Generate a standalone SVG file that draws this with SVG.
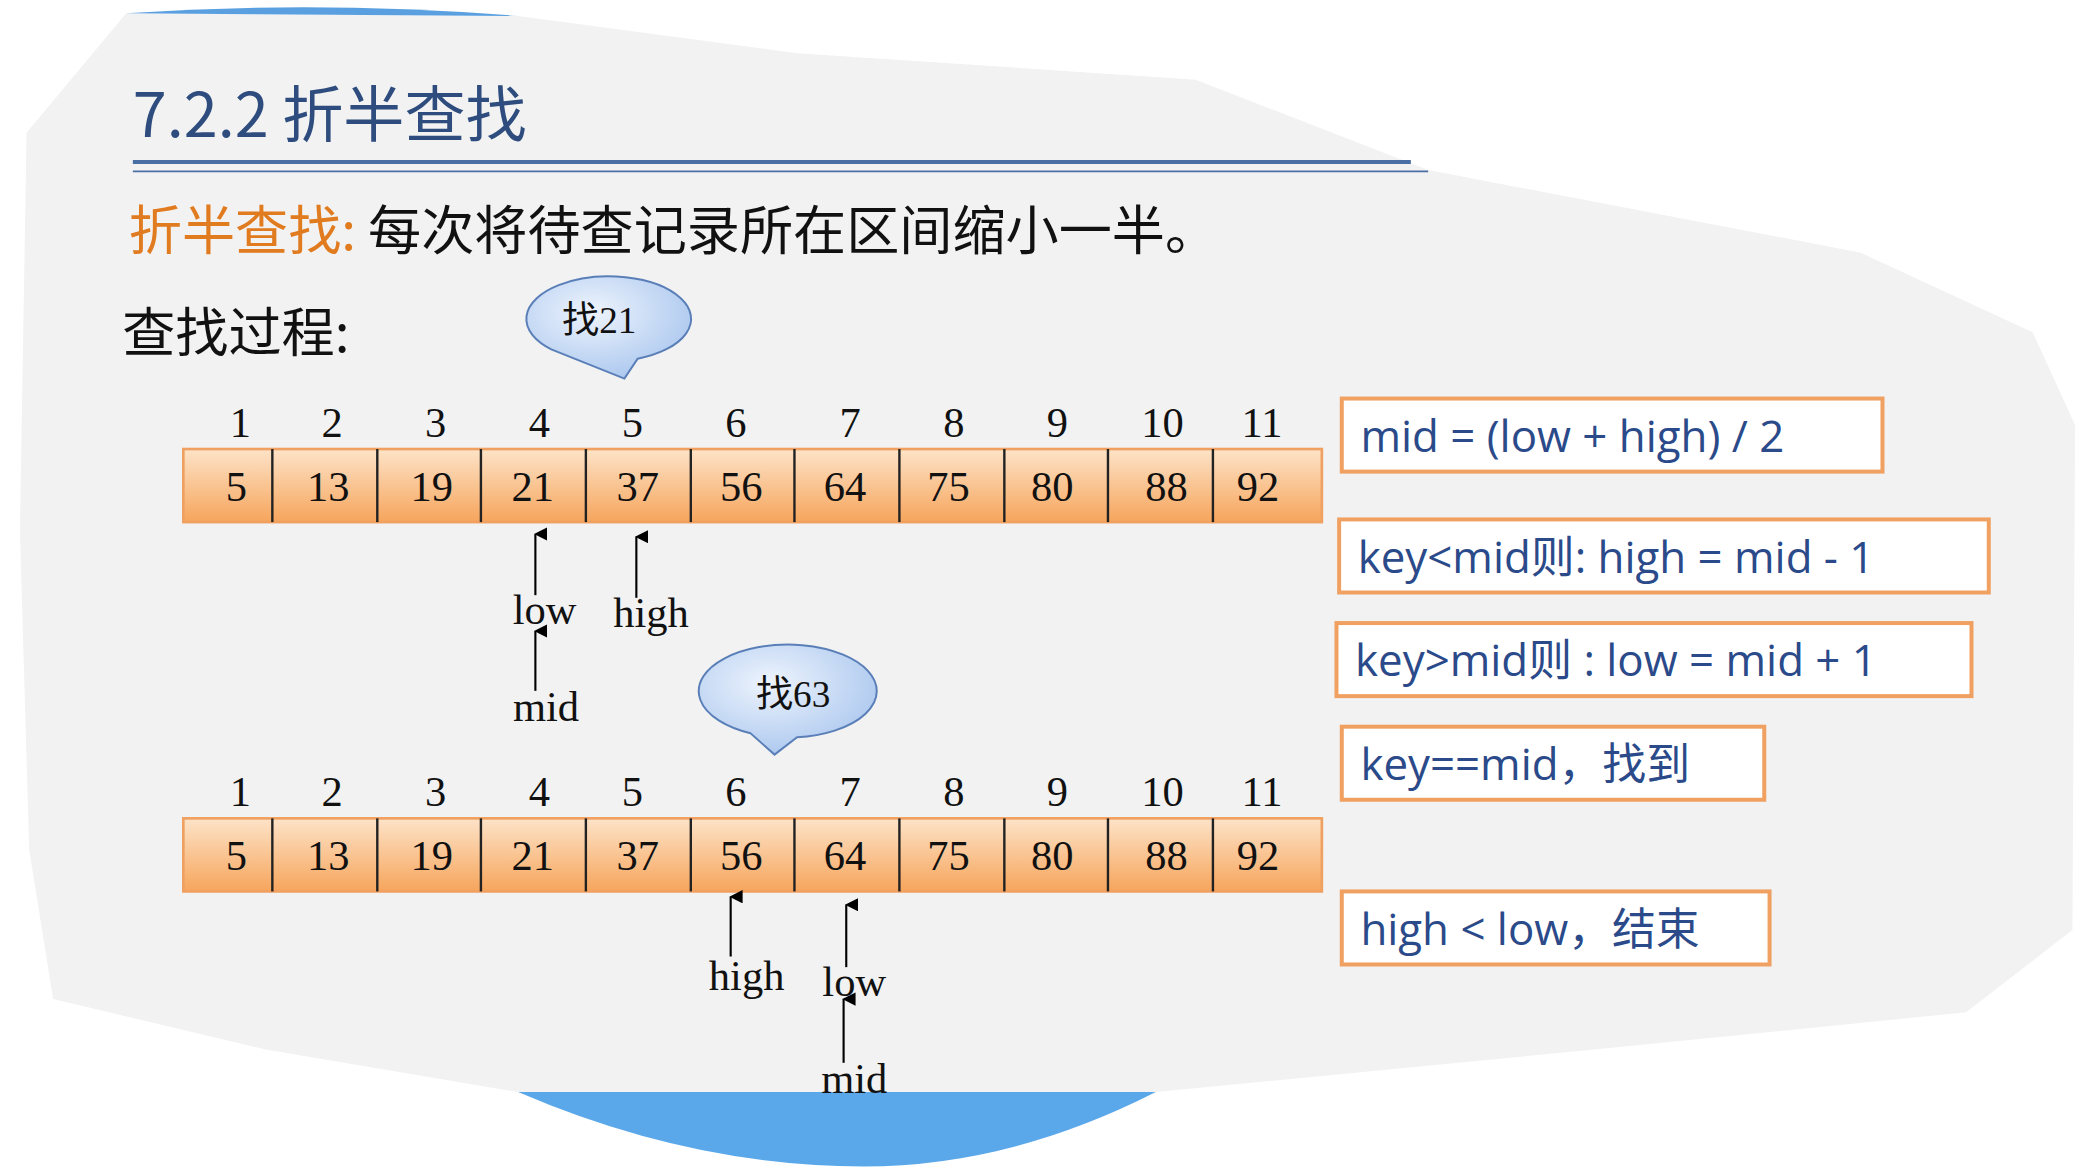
<svg xmlns="http://www.w3.org/2000/svg" width="2083" height="1167" viewBox="0 0 2083 1167">
<defs>
<linearGradient id="cell" x1="0" y1="0" x2="0" y2="1"><stop offset="0" stop-color="#fde3c8"/><stop offset="1" stop-color="#f6a55c"/></linearGradient>
<radialGradient id="bub" cx="0.4" cy="0.35" r="0.7"><stop offset="0" stop-color="#eef4fd"/><stop offset="1" stop-color="#a9c6ee"/></radialGradient>
<marker id="ar" markerWidth="10" markerHeight="10" refX="5" refY="1" orient="auto-start-reverse" markerUnits="userSpaceOnUse" viewBox="0 0 10 10"><path d="M0,10 L5,0 L10,10 Z" fill="#000"/></marker>
<style>
.ser{font-family:"Liberation Serif","Noto Sans CJK SC",serif;fill:#111;}
.idx{font-size:32px;text-anchor:middle;}
.val{font-size:32px;text-anchor:middle;}
.lbl{font-size:32px;text-anchor:middle;}
.cjk{font-family:"Noto Sans CJK SC",sans-serif;}
.box{fill:#fff;stroke:#f0a060;stroke-width:3;}
.bt{font-family:"Open Sans","Noto Sans CJK SC",sans-serif;font-size:33px;fill:#2b4a8a;}
.arr{stroke:#000;stroke-width:1.6;marker-end:url(#ar);}
.div{stroke:#222;stroke-width:1.8;}
</style>
</defs>
<g transform="scale(1.3285)">
<rect width="1568" height="878" fill="#fff"/>
<path d="M95,10 L390,12 L600,40 L900,60 L1075,128 L1400,190 L1530,250 L1562,320 L1560,700 L1480,762 L1200,790 L870,822 L390,822 L200,790 L40,752 L22,640 L15,400 L20,100 Z" fill="#f2f2f2"/>
<path d="M95,10 Q240,0 390,12 Z" fill="#5aa0e0"/>
<path d="M390,822 L870,822 Q760,878 650,878 Q520,878 390,822 Z" fill="#5aa8ea"/>
<g id="title">
<text x="100" y="103" font-family="Noto Sans CJK SC,sans-serif" font-size="46" fill="#2e4d7e">7.2.2 折半查找</text>
<line x1="100" y1="122" x2="1062" y2="122" stroke="#4a6fa5" stroke-width="3"/>
<line x1="100" y1="129" x2="1075" y2="129" stroke="#4a6fa5" stroke-width="1.2"/>
</g>
<g id="def">
<text x="97" y="188" font-family="Noto Sans CJK SC,sans-serif" font-size="40"><tspan fill="#e07b20">折半查找:</tspan><tspan fill="#111"> 每次将待查记录所在区间缩小一半。</tspan></text>
<text x="92" y="265" font-family="Noto Sans CJK SC,sans-serif" font-size="40" fill="#111">查找过程:</text>
</g>
<g id="bubble1">
<path d="M415,263 A62,32 0 1 1 480,270 L470,285 Z" fill="url(#bub)" stroke="#5a7fb8" stroke-width="1.5"/>
<text x="451" y="251" class="ser" font-size="28" text-anchor="middle">找21</text>
</g>
<g id="array1">
<rect x="138" y="338" width="857" height="55" fill="url(#cell)" stroke="#f0a060" stroke-width="2"/>
<g class="div"><line x1="205" y1="338" x2="205" y2="393"/><line x1="284" y1="338" x2="284" y2="393"/><line x1="362" y1="338" x2="362" y2="393"/><line x1="441" y1="338" x2="441" y2="393"/><line x1="520" y1="338" x2="520" y2="393"/><line x1="598" y1="338" x2="598" y2="393"/><line x1="677" y1="338" x2="677" y2="393"/><line x1="756" y1="338" x2="756" y2="393"/><line x1="834" y1="338" x2="834" y2="393"/><line x1="913" y1="338" x2="913" y2="393"/></g>
<g class="ser idx"><text x="181" y="329">1</text><text x="250" y="329">2</text><text x="328" y="329">3</text><text x="406" y="329">4</text><text x="476" y="329">5</text><text x="554" y="329">6</text><text x="640" y="329">7</text><text x="718" y="329">8</text><text x="796" y="329">9</text><text x="875" y="329">10</text><text x="950" y="329">11</text></g>
<g class="ser val"><text x="178" y="377">5</text><text x="247" y="377">13</text><text x="325" y="377">19</text><text x="401" y="377">21</text><text x="480" y="377">37</text><text x="558" y="377">56</text><text x="636" y="377">64</text><text x="714" y="377">75</text><text x="792" y="377">80</text><text x="878" y="377">88</text><text x="947" y="377">92</text></g>
</g>
<g id="bubble2">
<path d="M565,552 A67,35 0 1 1 600,555 L583,568 Z" fill="url(#bub)" stroke="#5a7fb8" stroke-width="1.5"/>
<text x="597" y="532" class="ser" font-size="28" text-anchor="middle">找63</text>
</g>
<g id="array2">
<rect x="138" y="616" width="857" height="55" fill="url(#cell)" stroke="#f0a060" stroke-width="2"/>
<g class="div"><line x1="205" y1="616" x2="205" y2="671"/><line x1="284" y1="616" x2="284" y2="671"/><line x1="362" y1="616" x2="362" y2="671"/><line x1="441" y1="616" x2="441" y2="671"/><line x1="520" y1="616" x2="520" y2="671"/><line x1="598" y1="616" x2="598" y2="671"/><line x1="677" y1="616" x2="677" y2="671"/><line x1="756" y1="616" x2="756" y2="671"/><line x1="834" y1="616" x2="834" y2="671"/><line x1="913" y1="616" x2="913" y2="671"/></g>
<g class="ser idx"><text x="181" y="607">1</text><text x="250" y="607">2</text><text x="328" y="607">3</text><text x="406" y="607">4</text><text x="476" y="607">5</text><text x="554" y="607">6</text><text x="640" y="607">7</text><text x="718" y="607">8</text><text x="796" y="607">9</text><text x="875" y="607">10</text><text x="950" y="607">11</text></g>
<g class="ser val"><text x="178" y="655">5</text><text x="247" y="655">13</text><text x="325" y="655">19</text><text x="401" y="655">21</text><text x="480" y="655">37</text><text x="558" y="655">56</text><text x="636" y="655">64</text><text x="714" y="655">75</text><text x="792" y="655">80</text><text x="878" y="655">88</text><text x="947" y="655">92</text></g>
</g>
<g id="connectors">
<line class="arr" x1="403" y1="448" x2="403" y2="402"/>
<line class="arr" x1="479" y1="450" x2="479" y2="404"/>
<line class="arr" x1="403" y1="520" x2="403" y2="475"/>
<line class="arr" x1="550" y1="720" x2="550" y2="675"/>
<line class="arr" x1="637" y1="728" x2="637" y2="681"/>
<line class="arr" x1="635" y1="800" x2="635" y2="752"/>
</g>
<g id="labels" class="ser lbl">
<text x="410" y="470">low</text><text x="490" y="472">high</text><text x="411" y="543">mid</text>
<text x="562" y="745">high</text><text x="643" y="750">low</text><text x="643" y="823">mid</text>
</g>
<g id="rule1"><rect class="box" x="1010" y="300" width="407" height="55"/><text class="bt" x="1024" y="340">mid = (low + high) / 2</text></g>
<g id="rule2"><rect class="box" x="1008" y="391" width="489" height="55"/><text class="bt" x="1022" y="431">key&lt;mid则:  high = mid - 1</text></g>
<g id="rule3"><rect class="box" x="1006" y="469" width="478" height="55"/><text class="bt" x="1020" y="509">key&gt;mid则 : low = mid + 1</text></g>
<g id="rule4"><rect class="box" x="1010" y="547" width="318" height="55"/><text class="bt" x="1024" y="587">key==mid，找到</text></g>
<g id="rule5"><rect class="box" x="1010" y="671" width="322" height="55"/><text class="bt" x="1024" y="711">high &lt; low，结束</text></g>
</g>
</svg>
